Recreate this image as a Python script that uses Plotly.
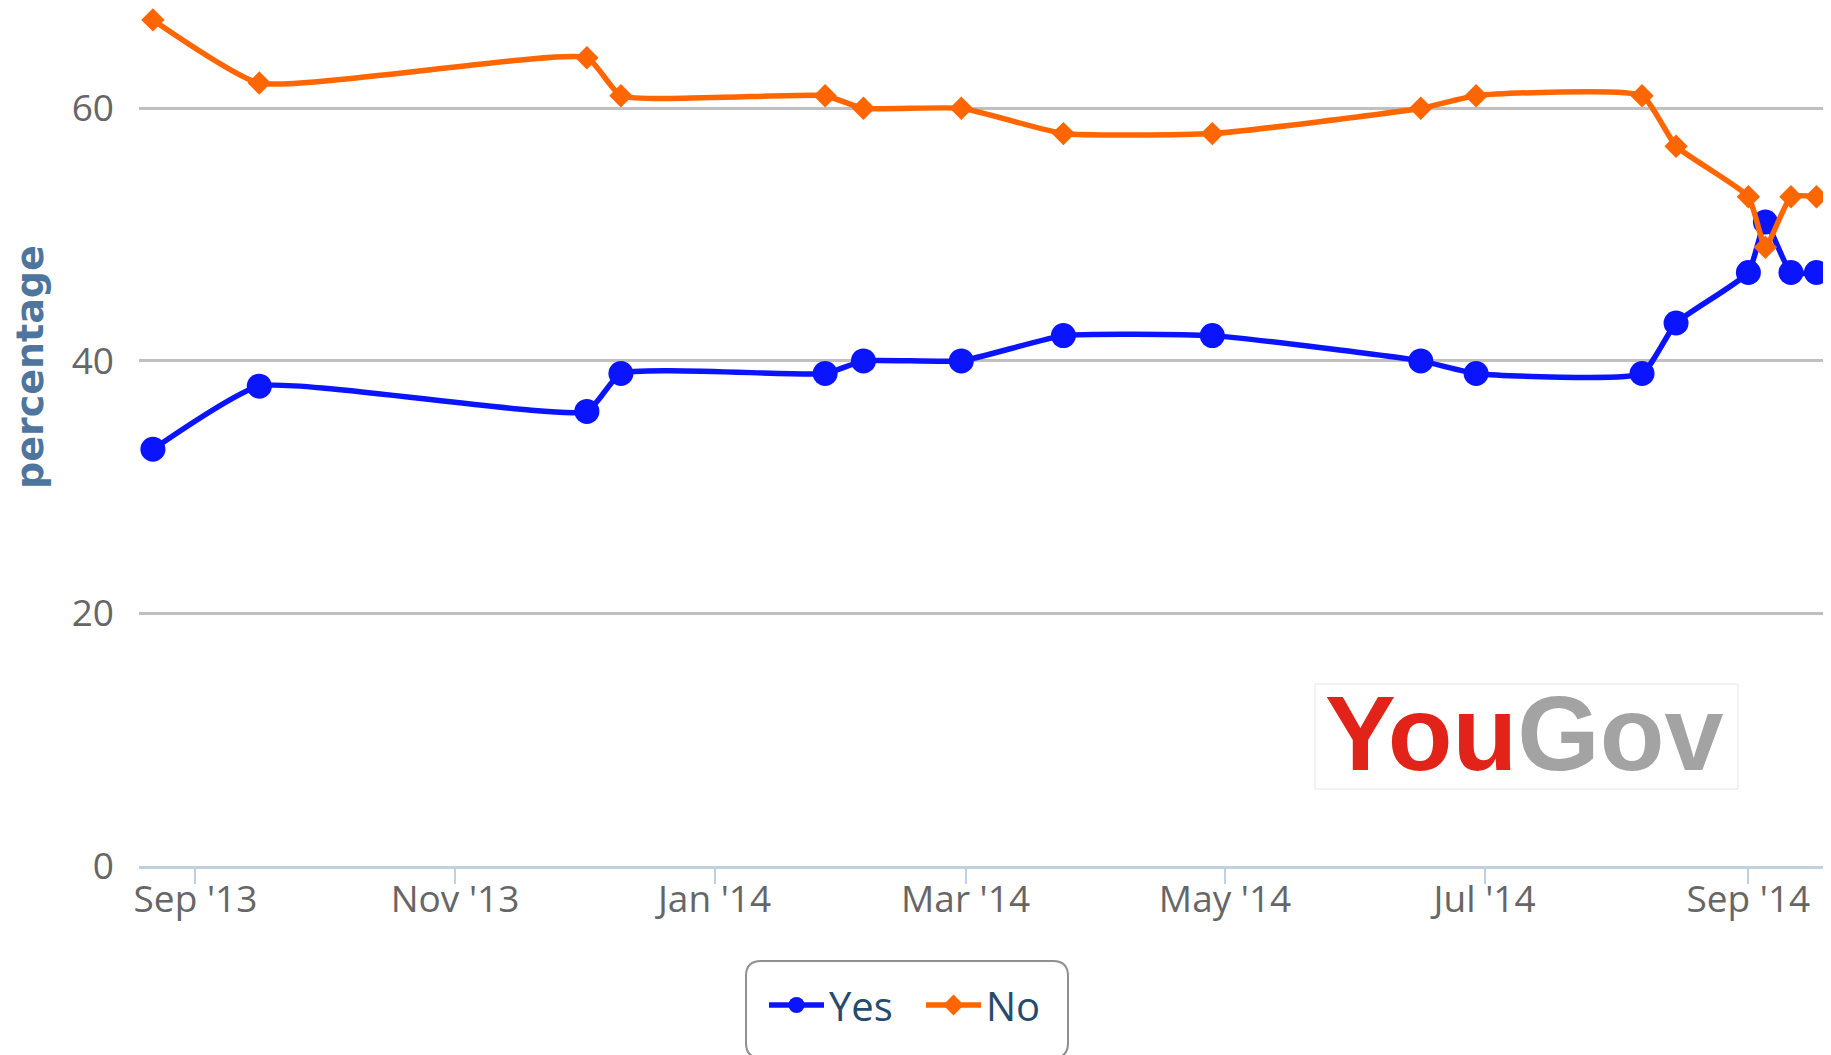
import plotly.graph_objects as go

# ---- data ----
poll_dates = ["2013-08-22", "2013-09-16", "2013-12-02", "2013-12-10", "2014-01-27",
              "2014-02-05", "2014-02-28", "2014-03-24", "2014-04-28", "2014-06-16",
              "2014-06-29", "2014-08-07", "2014-08-15", "2014-09-01", "2014-09-05",
              "2014-09-11", "2014-09-17"]
yes_values = [33, 38, 36, 39, 39, 40, 40, 42, 42, 40, 39, 39, 43, 47, 51, 47, 47]
no_values = [67, 62, 64, 61, 61, 60, 60, 58, 58, 60, 61, 61, 57, 53, 49, 53, 53]

x_tick_vals = ["2013-09-01", "2013-11-01", "2014-01-01", "2014-03-01",
               "2014-05-01", "2014-07-01", "2014-09-01"]
x_tick_text = ["Sep '13", "Nov '13", "Jan '14", "Mar '14", "May '14", "Jul '14", "Sep '14"]
y_tick_vals = [0, 20, 40, 60]

# ---- layout geometry (page pixels; page has an 8px body margin) ----
OFF = 8
W, H = 1831 - OFF, 1055 - OFF
ML, MR, MT = 139 - OFF, 0, 0
PLOT_BOTTOM = 866 - OFF
MB = H - PLOT_BOTTOM
PW = W - ML - MR
PH = PLOT_BOTTOM - MT
PX_PER_UNIT = 12.628
Y_TOP = PH / PX_PER_UNIT


def px_x(p):
    return (p - OFF - ML) / PW


def px_y(p):
    return (PLOT_BOTTOM - (p - OFF)) / PH


fig = go.Figure()
fig.add_trace(go.Scatter(
    x=poll_dates, y=yes_values, name="Yes", mode="lines+markers", cliponaxis=False,
    line=dict(color="#0a14ff", width=5.5, shape="spline", smoothing=0.45),
    marker=dict(symbol="circle", size=25, color="#0a14ff"),
))
fig.add_trace(go.Scatter(
    x=poll_dates, y=no_values, name="No", mode="lines+markers", cliponaxis=False,
    line=dict(color="#ff6600", width=5.5, shape="spline", smoothing=0.45),
    marker=dict(symbol="diamond", size=18, color="#ff6600"),
))


def rounded_rect(x0, y0, x1, y1, r):
    pts = [
        f"M {px_x(x0 + r)},{px_y(y0)}",
        f"L {px_x(x1 - r)},{px_y(y0)}",
        f"Q {px_x(x1)},{px_y(y0)} {px_x(x1)},{px_y(y0 + r)}",
        f"L {px_x(x1)},{px_y(y1 - r)}",
        f"Q {px_x(x1)},{px_y(y1)} {px_x(x1 - r)},{px_y(y1)}",
        f"L {px_x(x0 + r)},{px_y(y1)}",
        f"Q {px_x(x0)},{px_y(y1)} {px_x(x0)},{px_y(y1 - r)}",
        f"L {px_x(x0)},{px_y(y0 + r)}",
        f"Q {px_x(x0)},{px_y(y0)} {px_x(x0 + r)},{px_y(y0)}",
        "Z",
    ]
    return " ".join(pts)


shapes = [
    dict(type="path", xref="paper", yref="paper",
         path=rounded_rect(746, 961, 1068, 1058, 15),
         line=dict(color="#909090", width=2), fillcolor="rgba(0,0,0,0)", layer="above"),
    dict(type="rect", xref="paper", yref="paper",
         x0=px_x(1315), x1=px_x(1738), y0=px_y(789), y1=px_y(684),
         line=dict(color="#e6e6e6", width=1), fillcolor="white", layer="below"),
]

annotations = [
    dict(text="percentage", xref="paper", yref="paper", x=px_x(30), y=px_y(367),
         xanchor="center", yanchor="middle", textangle=-90, showarrow=False,
         font=dict(family="DejaVu Sans", size=38, color="#4d759e", weight="bold")),
    dict(text="<b><span style='color:#e2231a'>You</span><span style='color:#a3a3a3'>Gov</span></b>",
         xref="paper", yref="paper", x=px_x(1524), y=px_y(733),
         xanchor="center", yanchor="middle", showarrow=False,
         font=dict(family="Liberation Sans", size=106)),
]

fig.update_layout(
    width=W, height=H,
    margin=dict(l=ML, r=MR, t=MT, b=MB, pad=0),
    paper_bgcolor="white", plot_bgcolor="white",
    font=dict(family="Open Sans", color="#666666"),
    showlegend=True,
    legend=dict(orientation="h", x=px_x(764), y=px_y(1005), xanchor="left", yanchor="middle",
                itemwidth=55, entrywidth=87,
                font=dict(family="Open Sans", size=40, color="#274b6d"),
                bgcolor="rgba(0,0,0,0)", borderwidth=0, itemclick=False, itemdoubleclick=False),
    shapes=shapes,
    annotations=annotations,
    xaxis=dict(type="date", range=["2013-08-18 17:30", "2014-09-20 10:00"],
               tickmode="array", tickvals=x_tick_vals, ticktext=x_tick_text,
               ticks="outside", ticklen=15, tickwidth=2, tickcolor="#c0d0e0",
               showline=True, linecolor="#c0d0e0", linewidth=3,
               showgrid=False, zeroline=False, ticklabelstandoff=-16,
               tickfont=dict(family="Open Sans", size=37, color="#666666")),
    yaxis=dict(range=[0, Y_TOP], tickmode="array", tickvals=y_tick_vals,
               showgrid=True, gridcolor="#c0c0c0", gridwidth=2.5,
               zeroline=False, showline=False, ticks="", ticklabelstandoff=24,
               tickfont=dict(family="Open Sans", size=37, color="#666666")),
)

fig.write_html("out.html")
